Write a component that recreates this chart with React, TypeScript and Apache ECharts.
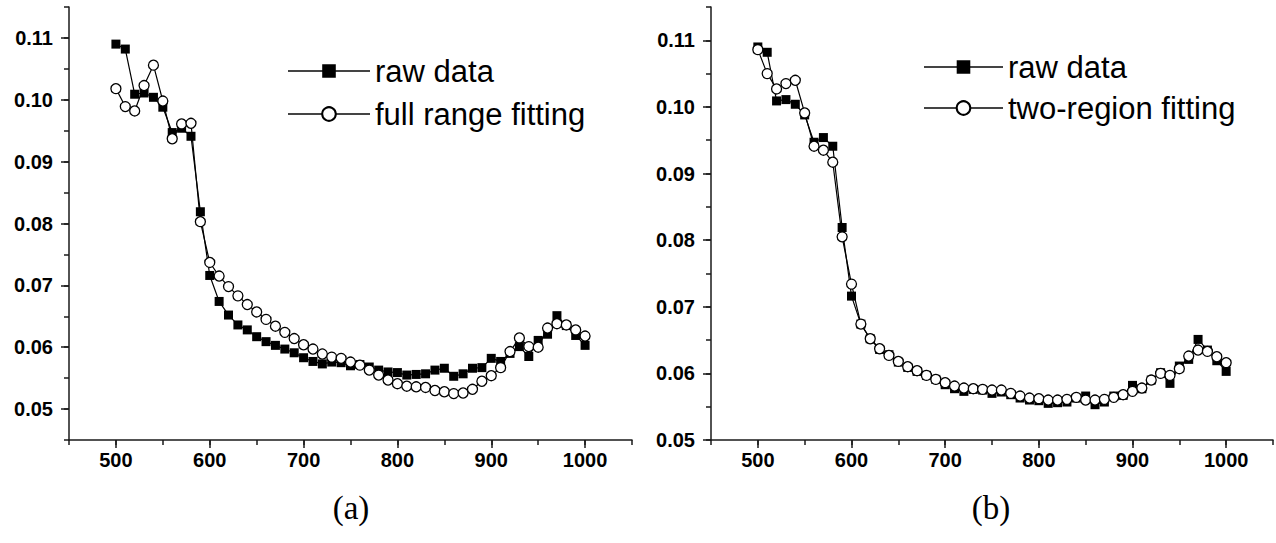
import React, { useEffect, useRef } from "react";
import * as echarts from "echarts";

const wavelengths = [
  500, 510, 520, 530, 540, 550, 560, 570, 580, 590,
  600, 610, 620, 630, 640, 650, 660, 670, 680, 690,
  700, 710, 720, 730, 740, 750, 760, 770, 780, 790,
  800, 810, 820, 830, 840, 850, 860, 870, 880, 890,
  900, 910, 920, 930, 940, 950, 960, 970, 980, 990, 1000,
];

const rawData = [
  0.1090, 0.1082, 0.1009, 0.1011, 0.1004, 0.0988, 0.0947, 0.0954, 0.0941, 0.0819,
  0.0716, 0.0674, 0.0652, 0.0636, 0.0628, 0.0617, 0.0609, 0.0603, 0.0597, 0.0591,
  0.0583, 0.0577, 0.0573, 0.0576, 0.0575, 0.0570, 0.0572, 0.0568, 0.0563, 0.0560,
  0.0559, 0.0555, 0.0556, 0.0557, 0.0563, 0.0566, 0.0553, 0.0557, 0.0566, 0.0567,
  0.0582, 0.0577, 0.0590, 0.0601, 0.0585, 0.0611, 0.0621, 0.0651, 0.0635, 0.0619, 0.0603,
];

const fullRangeFit = [
  0.1018, 0.0989, 0.0982, 0.1023, 0.1056, 0.0998, 0.0937, 0.0961, 0.0962, 0.0803,
  0.0737, 0.0715, 0.0698, 0.0683, 0.0669, 0.0657, 0.0645, 0.0634, 0.0624, 0.0614,
  0.0604, 0.0597, 0.0589, 0.0584, 0.0582, 0.0576, 0.0571, 0.0563, 0.0555, 0.0547,
  0.0541, 0.0537, 0.0536, 0.0535, 0.0530, 0.0528, 0.0525, 0.0526, 0.0532, 0.0545,
  0.0554, 0.0567, 0.0593, 0.0615, 0.0601, 0.0600, 0.0631, 0.0638, 0.0636, 0.0628, 0.0618,
];

const twoRegionFit = [
  0.1086, 0.1050, 0.1027, 0.1035, 0.1040, 0.0991, 0.0941, 0.0935, 0.0917, 0.0805,
  0.0734, 0.0674, 0.0652, 0.0637, 0.0627, 0.0618, 0.0610, 0.0604, 0.0597, 0.0591,
  0.0586, 0.0581, 0.0578, 0.0577, 0.0576, 0.0575, 0.0575, 0.0570, 0.0566, 0.0563,
  0.0562, 0.0560, 0.0560, 0.0561, 0.0564, 0.0560, 0.0560, 0.0561, 0.0564, 0.0568,
  0.0573, 0.0578, 0.0590, 0.0600, 0.0597, 0.0607, 0.0626, 0.0635, 0.0633, 0.0625, 0.0616,
];

const xMajorTicks = [500, 600, 700, 800, 900, 1000];
const yMajorTicks = [0.05, 0.06, 0.07, 0.08, 0.09, 0.1, 0.11];
const panelLabels = ["(a)", "(b)"];
const seriesNames = ["raw data", "full range fitting", "two-region fitting"];

const AXIS_COLOR = "#1a1a1a";
const LABEL_FONT = "Liberation Sans";

function pairs(values: number[]) {
  return wavelengths.map((w, i) => [w, values[i]]);
}

function xAxes(gridIndex: number) {
  return [
    {
      gridIndex,
      type: "value",
      position: "bottom",
      offset: 0,
      min: 450,
      max: 1050,
      interval: 50,
      axisLine: { show: true, onZero: false, lineStyle: { color: AXIS_COLOR, width: 1.5 } },
      axisTick: { show: true, inside: false, length: 5, lineStyle: { color: AXIS_COLOR, width: 1.5 } },
      axisLabel: {
        show: true,
        customValues: xMajorTicks,
        margin: 10,
        color: "#000",
        fontFamily: LABEL_FONT,
        fontWeight: "bold",
        fontSize: 20,
        formatter: (v: number) => (Math.round(v) % 100 === 0 ? String(Math.round(v)) : ""),
      },
      splitLine: { show: false },
    },
    {
      gridIndex,
      type: "value",
      position: "bottom",
      offset: 0,
      min: 450,
      max: 1050,
      interval: 50,
      axisLine: { show: false, onZero: false },
      axisTick: {
        show: true,
        inside: false,
        length: 8,
        customValues: xMajorTicks,
        lineStyle: { color: AXIS_COLOR, width: 1.5 },
      },
      axisLabel: { show: false },
      splitLine: { show: false },
    },
  ];
}

function yAxes(gridIndex: number, min: number) {
  return [
    {
      gridIndex,
      type: "value",
      position: "left",
      offset: 0,
      min,
      max: 0.115,
      interval: 0.005,
      axisLine: { show: true, onZero: false, lineStyle: { color: AXIS_COLOR, width: 1.5 } },
      axisTick: { show: true, inside: false, length: 5, lineStyle: { color: AXIS_COLOR, width: 1.5 } },
      axisLabel: {
        show: true,
        customValues: yMajorTicks,
        margin: 16,
        color: "#000",
        fontFamily: LABEL_FONT,
        fontWeight: "bold",
        fontSize: 20,
        formatter: (v: number) => {
          const r = Math.round(v * 1000);
          return r % 10 === 0 ? (r / 1000).toFixed(2) : "";
        },
      },
      splitLine: { show: false },
    },
    {
      gridIndex,
      type: "value",
      position: "left",
      offset: 0,
      min,
      max: 0.115,
      interval: 0.005,
      axisLine: { show: false, onZero: false },
      axisTick: {
        show: true,
        inside: false,
        length: 8,
        customValues: yMajorTicks,
        lineStyle: { color: AXIS_COLOR, width: 1.5 },
      },
      axisLabel: { show: false },
      splitLine: { show: false },
    },
  ];
}

function rawSeries(axisIndex: number) {
  return {
    type: "line",
    name: seriesNames[0],
    xAxisIndex: axisIndex,
    yAxisIndex: axisIndex,
    data: pairs(rawData),
    symbol: "rect",
    symbolSize: 9,
    showSymbol: true,
    lineStyle: { color: "#000", width: 1.2 },
    itemStyle: { color: "#000" },
    z: 2,
  };
}

function fitSeries(axisIndex: number, name: string, values: number[]) {
  return {
    type: "line",
    name,
    xAxisIndex: axisIndex,
    yAxisIndex: axisIndex,
    data: pairs(values),
    symbol: "circle",
    symbolSize: 10,
    showSymbol: true,
    lineStyle: { color: "#000", width: 1.2 },
    itemStyle: { color: "#fff", borderColor: "#000", borderWidth: 1.3 },
    z: 3,
  };
}

function legend(name: string, left: number, centerY: number, itemWidth: number) {
  return {
    data: [name],
    left,
    top: centerY - 17,
    orient: "vertical",
    padding: 0,
    itemWidth,
    itemHeight: 17,
    selectedMode: false,
    lineStyle: { color: "#444", width: 2 },
    textStyle: { fontSize: 31, fontFamily: LABEL_FONT, color: "#000", lineHeight: 34 },
  };
}

export default function App() {
  const ref = useRef<HTMLDivElement>(null);

  useEffect(() => {
    if (!ref.current) return;
    const chart = echarts.init(ref.current, undefined, { renderer: "svg" });
    chart.setOption({
      animation: false,
      backgroundColor: "#fff",
      grid: [
        { left: 69, top: 7, width: 563, height: 433 },
        { left: 711, top: 7, width: 562, height: 433 },
      ],
      xAxis: [...xAxes(0), ...xAxes(1)],
      yAxis: [...yAxes(0, 0.045), ...yAxes(1, 0.05)],
      legend: [
        legend(seriesNames[0], 287, 71, 82),
        legend(seriesNames[1], 287, 114, 82),
        legend(seriesNames[0], 923, 67, 79),
        legend(seriesNames[2], 923, 108, 79),
      ],
      series: [
        rawSeries(0),
        fitSeries(0, seriesNames[1], fullRangeFit),
        rawSeries(2),
        fitSeries(2, seriesNames[2], twoRegionFit),
      ],
      graphic: [
        {
          type: "text",
          x: 351,
          y: 508,
          style: {
            text: panelLabels[0],
            fontSize: 33,
            fontFamily: "Liberation Serif",
            fill: "#000",
            align: "center",
            verticalAlign: "middle",
          },
        },
        {
          type: "text",
          x: 991,
          y: 508,
          style: {
            text: panelLabels[1],
            fontSize: 33,
            fontFamily: "Liberation Serif",
            fill: "#000",
            align: "center",
            verticalAlign: "middle",
          },
        },
      ],
    });
    return () => chart.dispose();
  }, []);

  return (
    <div
      ref={ref}
      style={{ position: "absolute", left: 0, top: 0, width: 1276, height: 543 }}
    />
  );
}
